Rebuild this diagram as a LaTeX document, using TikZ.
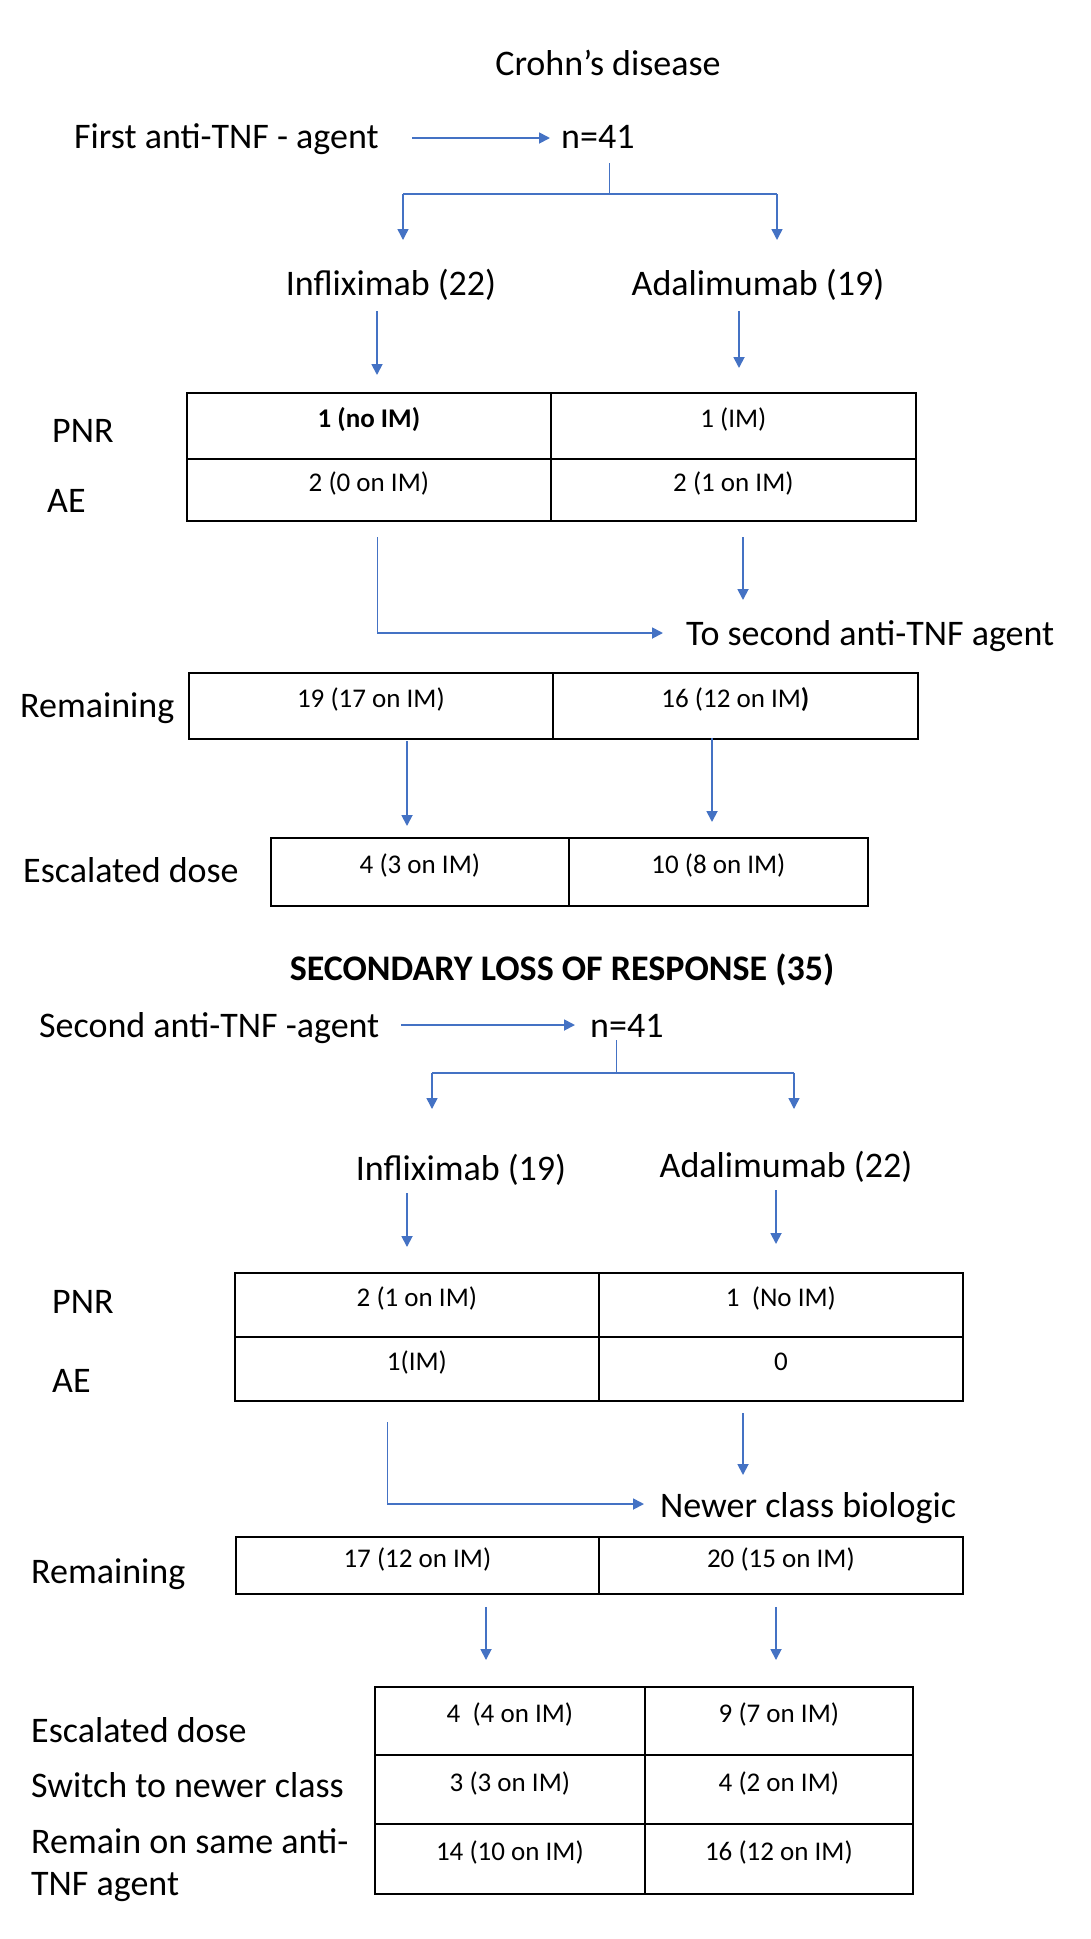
\documentclass[tikz,border=0pt]{standalone}
\usepackage{fontspec}
\setmainfont{Carlito}
\usetikzlibrary{arrows.meta,calc}
\definecolor{ablue}{HTML}{4472C4}
\begin{document}
\begin{tikzpicture}[x=1pt,y=-1pt,
  big/.style={font=\fontsize{36}{43}\selectfont, inner sep=0pt, anchor=base},
  bigl/.style={big, anchor=base west},
  cell/.style={draw=black, line width=1.8pt, inner sep=0pt, anchor=north west,
    font=\fontsize{27}{32}\selectfont, text height=12pt, text depth=8pt},
  arr/.style={draw=ablue, line width=1.8pt, -{Triangle[width=11pt,length=11pt]}},
  ln/.style={draw=ablue, line width=1pt},
]
\useasboundingbox[fill=white] (0,0) rectangle (1091,1939);

% ---------- top part ----------
\node[big]  (crohn)  at (608,75)  {Crohn’s disease};
\node[bigl] (first)  at (74,148)  {First anti-TNF - agent};
\node[bigl] (n1)     at (561,148) {n=41};
\node[big]  (inf1)   at (391,295) {Infliximab (22)};
\node[big]  (ada1)   at (758,295) {Adalimumab (19)};
\node[bigl] (pnr1)   at (52,442)  {PNR};
\node[bigl] (ae1)    at (47,512)  {AE};
\node[bigl] (tosec)  at (686,645) {To second anti-TNF agent};
\node[bigl] (rem1)   at (20,717)  {Remaining};
\node[bigl] (esc1)   at (23,882)  {Escalated dose};

\node[cell, minimum width=364pt, minimum height=66pt] (t1a) at (186,392) {\textbf{1 (no IM)}};
\node[cell, minimum width=365pt, minimum height=66pt] (t1b) at (550,392) {1 (IM)};
\node[cell, minimum width=364pt, minimum height=62pt] (t1c) at (186,458) {2 (0 on IM)};
\node[cell, minimum width=365pt, minimum height=62pt] (t1d) at (550,458) {2 (1 on IM)};

\node[cell, minimum width=364pt, minimum height=66pt] (t2a) at (188,672) {19 (17 on IM)};
\node[cell, minimum width=365pt, minimum height=66pt] (t2b) at (552,672) {16 (12 on IM\textbf{)}};

\node[cell, minimum width=298pt, minimum height=68pt] (t3a) at (270,837) {4 (3 on IM)};
\node[cell, minimum width=299pt, minimum height=68pt] (t3b) at (568,837) {10 (8 on IM)};

% arrows top
\coordinate (a1s) at (412,138); \coordinate (a1e) at (550,138);
\draw[arr] (a1s) -- (a1e);
\coordinate (j1) at (609,163); \coordinate (j1b) at (609,194);
\coordinate (bl1) at (403,194); \coordinate (br1) at (777,194);
\coordinate (bl1t) at (403,240); \coordinate (br1t) at (777,240);
\draw[ln] (j1) -- (j1b);
\draw[ln, line width=1.5pt] (bl1) -- (br1);
\draw[arr, line width=1.5pt] (bl1) -- (bl1t);
\draw[arr, line width=1.5pt] (br1) -- (br1t);
\coordinate (d1s) at (377,311); \coordinate (d1e) at (377,375);
\coordinate (d2s) at (739,311); \coordinate (d2e) at (739,368);
\draw[arr] (d1s) -- (d1e);
\draw[arr] (d2s) -- (d2e);
\coordinate (e1s) at (377,537); \coordinate (e1c) at (377,633); \coordinate (e1e) at (663,633);
\draw[ln] (e1s) -- (e1c);
\draw[arr] (e1c) -- (e1e);
\coordinate (r1s) at (743,537); \coordinate (r1e) at (743,600);
\draw[arr] (r1s) -- (r1e);
\coordinate (f1s) at (407,741); \coordinate (f1e) at (407,826);
\coordinate (f2s) at (712,738); \coordinate (f2e) at (712,822);
\draw[arr] (f1s) -- (f1e);
\draw[arr] (f2s) -- (f2e);

% ---------- bottom part ----------
\node[big, font=\fontsize{36}{43}\selectfont\bfseries] (slr) at (562,980) {SECONDARY LOSS OF RESPONSE (35)};
\node[bigl] (second) at (39,1037)  {Second anti-TNF -agent};
\node[bigl] (n2)     at (590,1037) {n=41};
\node[big]  (inf2)   at (461,1180) {Infliximab (19)};
\node[big]  (ada2)   at (786,1177) {Adalimumab (22)};
\node[bigl] (pnr2)   at (52,1313)  {PNR};
\node[bigl] (ae2)    at (52,1392)  {AE};
\node[bigl] (newer)  at (660,1517) {Newer class biologic};
\node[bigl] (rem2)   at (31,1583)  {Remaining};
\node[bigl] (esc2)   at (31,1742)  {Escalated dose};
\node[bigl] (switch) at (31,1797)  {Switch to newer class};
\node[bigl] (remain) at (31,1853)  {Remain on same anti-};
\node[bigl] (tnf)    at ([yshift=-42pt]remain.base west) {TNF agent};

\node[cell, minimum width=364pt, minimum height=64pt] (t4a) at (234,1272) {2 (1 on IM)};
\node[cell, minimum width=364pt, minimum height=64pt] (t4b) at (598,1272) {1\ \ (No IM)};
\node[cell, minimum width=364pt, minimum height=64pt] (t4c) at (234,1336) {1(IM)};
\node[cell, minimum width=364pt, minimum height=64pt] (t4d) at (598,1336) {0};

\node[cell, minimum width=363pt, minimum height=57pt] (t5a) at (235,1536) {17 (12 on IM)};
\node[cell, minimum width=364pt, minimum height=57pt] (t5b) at (598,1536) {20 (15 on IM)};

\node[cell, minimum width=270pt, minimum height=68pt] (t6a) at (374,1686) {4\ \ (4 on IM)};
\node[cell, minimum width=268pt, minimum height=68pt] (t6b) at (644,1686) {9 (7 on IM)};
\node[cell, minimum width=270pt, minimum height=69pt] (t6c) at (374,1754) {3 (3 on IM)};
\node[cell, minimum width=268pt, minimum height=69pt] (t6d) at (644,1754) {4 (2 on IM)};
\node[cell, minimum width=270pt, minimum height=70pt] (t6e) at (374,1823) {14 (10 on IM)};
\node[cell, minimum width=268pt, minimum height=70pt] (t6f) at (644,1823) {16 (12 on IM)};

% arrows bottom
\coordinate (a2s) at (401,1025); \coordinate (a2e) at (575,1025);
\draw[arr] (a2s) -- (a2e);
\coordinate (j2) at (616,1040); \coordinate (j2b) at (616,1073);
\coordinate (bl2) at (432,1073); \coordinate (br2) at (794,1073);
\coordinate (bl2t) at (432,1109); \coordinate (br2t) at (794,1109);
\draw[ln] (j2) -- (j2b);
\draw[ln, line width=1.5pt] (bl2) -- (br2);
\draw[arr, line width=1.5pt] (bl2) -- (bl2t);
\draw[arr, line width=1.5pt] (br2) -- (br2t);
\coordinate (g1s) at (407,1193); \coordinate (g1e) at (407,1247);
\coordinate (g2s) at (776,1190); \coordinate (g2e) at (776,1244);
\draw[arr] (g1s) -- (g1e);
\draw[arr] (g2s) -- (g2e);
\coordinate (e2s) at (387,1422); \coordinate (e2c) at (387,1504); \coordinate (e2e) at (644,1504);
\draw[ln] (e2s) -- (e2c);
\draw[arr] (e2c) -- (e2e);
\coordinate (r2s) at (743,1413); \coordinate (r2e) at (743,1475);
\draw[arr] (r2s) -- (r2e);
\coordinate (h1s) at (486,1607); \coordinate (h1e) at (486,1660);
\coordinate (h2s) at (776,1607); \coordinate (h2e) at (776,1660);
\draw[arr] (h1s) -- (h1e);
\draw[arr] (h2s) -- (h2e);
\end{tikzpicture}
\end{document}
